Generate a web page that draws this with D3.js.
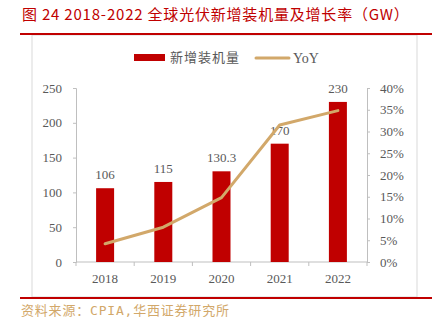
<!DOCTYPE html>
<html>
<head>
<meta charset="utf-8">
<script src="https://cdn.jsdelivr.net/npm/d3@7"></script>
<style>
  body { margin: 0; background: #fff; }
  svg { display: block; }
</style>
</head>
<body>
<svg width="432" height="329"></svg>
<script>
// chart data
var years = ["2018", "2019", "2020", "2021", "2022"];
var installs = [106, 115, 130.3, 170, 230];
var installLabels = ["106", "115", "130.3", "170", "230"];
var yoy = [4.2, 8, 14.8, 31.5, 34.8];
var leftTicks = [0, 50, 100, 150, 200, 250];
var rightTicks = [0, 5, 10, 15, 20, 25, 30, 35, 40];

var svg = d3.select("svg");
var red = "#c00000", tan = "#d2a86a", grey = "#595959";
var serif = "'Liberation Serif', 'Times New Roman', serif";
var cjk = "'Noto Sans CJK SC', sans-serif";
var mono = "'DejaVu Sans Mono', 'Noto Sans CJK SC', monospace";

var margin = {top: 88, left: 76, right: 65, bottom: 67};
var width = 432 - margin.left - margin.right,
    height = 329 - margin.top - margin.bottom;

// title + rules
svg.append("text").attr("x", 22).attr("y", 20)
  .style("font-family", cjk).style("font-size", "15px").style("letter-spacing", "0.8px").style("fill", red)
  .text("图 24 2018-2022 全球光伏新增装机量及增长率（GW）");
svg.append("rect").attr("x", 32).attr("y", 35).attr("width", 385).attr("height", 262)
  .style("fill", "none").style("stroke", "#d9d9d9");
svg.append("line").attr("x1", 20).attr("x2", 432).attr("y1", 34).attr("y2", 34)
  .style("stroke", red).style("stroke-width", 2);
svg.append("line").attr("x1", 20).attr("x2", 432).attr("y1", 298).attr("y2", 298)
  .style("stroke", red).style("stroke-width", 2);
svg.append("text").attr("x", 21).attr("y", 315)
  .attr("textLength", 208).attr("lengthAdjust", "spacing")
  .style("font-family", mono).style("font-size", "13px").style("fill", tan)
  .text("资料来源：CPIA,华西证券研究所");

// legend
var lg = svg.append("g");
lg.append("rect").attr("x", 134).attr("y", 54).attr("width", 31).attr("height", 7).style("fill", red);
lg.append("text").attr("x", 170).attr("y", 62).attr("textLength", 69).attr("lengthAdjust", "spacing")
  .style("font-family", cjk).style("font-size", "13px")
  .style("fill", grey).text("新增装机量");
lg.append("line").attr("x1", 256).attr("x2", 289).attr("y1", 58).attr("y2", 58)
  .style("stroke", tan).style("stroke-width", 3).style("stroke-linecap", "round");
lg.append("text").attr("x", 293).attr("y", 63).style("font-family", serif).style("font-size", "14px")
  .style("fill", grey).text("YoY");

var g = svg.append("g").attr("transform", "translate(" + margin.left + "," + margin.top + ")");

var x = d3.scaleBand().domain(years).range([0, width]);
var y = d3.scaleLinear().domain([0, 250]).range([height, 0]);
var y2 = d3.scaleLinear().domain([0, 40]).range([height, 0]);

// axes
var axL = g.append("g").call(d3.axisLeft(y).tickValues(leftTicks).tickSize(3).tickPadding(11));
var axR = g.append("g").attr("transform", "translate(" + width + ",0)")
  .call(d3.axisRight(y2).tickValues(rightTicks).tickSize(3).tickPadding(10).tickFormat(function (d) { return d + "%"; }));
[axL, axR].forEach(function (ax) {
  ax.select(".domain").style("stroke", "#bfbfbf");
  ax.selectAll(".tick line").style("stroke", "#bfbfbf");
  ax.selectAll("text").style("font-family", serif).style("font-size", "13px").style("fill", grey);
});

// bottom axis with ticks between categories
var axB = g.append("g").attr("transform", "translate(0," + height + ")")
  .call(d3.axisBottom(x).tickSize(0).tickPadding(12));
axB.select(".domain").remove();
axB.selectAll("text").style("font-family", serif).style("font-size", "13px").style("fill", grey);
g.append("line").attr("x1", 0).attr("x2", width).attr("y1", height).attr("y2", height).style("stroke", "#bfbfbf");
g.selectAll(".sep").data(d3.range(years.length + 1)).enter().append("line")
  .attr("x1", function (i) { return i * x.step(); }).attr("x2", function (i) { return i * x.step(); })
  .attr("y1", height).attr("y2", height + 4).style("stroke", "#bfbfbf");

// bars
var bw = 18;
g.selectAll(".bar").data(installs).enter().append("rect")
  .attr("x", function (d, i) { return x(years[i]) + x.bandwidth() / 2 - bw / 2; })
  .attr("y", function (d) { return y(d); })
  .attr("width", bw)
  .attr("height", function (d) { return height - y(d); })
  .style("fill", red);

g.selectAll(".lbl").data(installs).enter().append("text")
  .attr("x", function (d, i) { return x(years[i]) + x.bandwidth() / 2; })
  .attr("y", function (d) { return y(d) - 9; })
  .attr("text-anchor", "middle")
  .style("font-family", serif).style("font-size", "13px").style("fill", grey)
  .text(function (d, i) { return installLabels[i]; });

// yoy line
var line = d3.line()
  .x(function (d, i) { return x(years[i]) + x.bandwidth() / 2; })
  .y(function (d) { return y2(d); });
g.append("path").datum(yoy).attr("d", line)
  .style("fill", "none").style("stroke", tan).style("stroke-width", 3)
  .style("stroke-linejoin", "round").style("stroke-linecap", "round");
</script>
</body>
</html>
